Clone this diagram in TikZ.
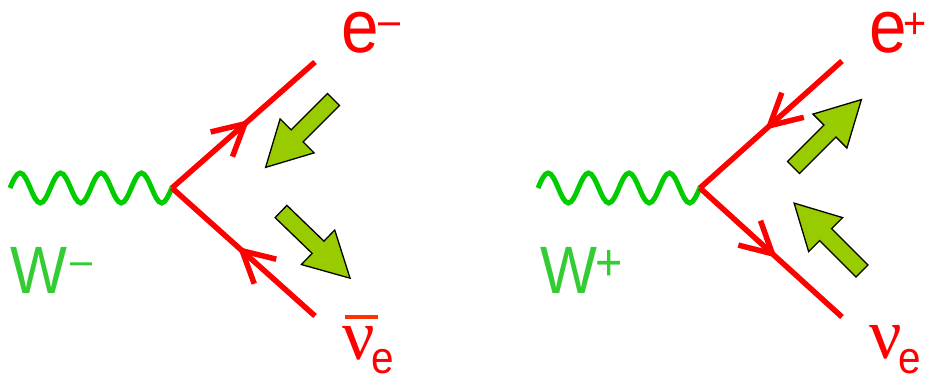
\documentclass[tikz,border=0pt]{standalone}
\usepackage{fontspec}
\usetikzlibrary{arrows.meta, decorations, decorations.markings}
\newfontfamily\lblfont[FakeStretch=0.9]{Liberation Sans}
\newfontfamily\nufont{Liberation Serif}
\definecolor{lepton}{RGB}{255,0,0}
\definecolor{wline}{RGB}{0,204,0}
\definecolor{wtext}{RGB}{51,204,51}
\definecolor{spinfill}{RGB}{153,204,0}
\definecolor{barcol}{RGB}{255,51,0}
% one full sine period per step
\pgfdeclaredecoration{wboson}{wave}{
  \state{wave}[width=\pgfdecorationsegmentlength,
    switch if less than=\pgfdecorationsegmentlength to final]{
    \pgfpathcurveto{\pgfpoint{0.0815\pgfdecorationsegmentlength}{0.5123\pgfdecorationsegmentamplitude}}
      {\pgfpoint{0.1595\pgfdecorationsegmentlength}{\pgfdecorationsegmentamplitude}}
      {\pgfpoint{0.25\pgfdecorationsegmentlength}{\pgfdecorationsegmentamplitude}}
    \pgfpathcurveto{\pgfpoint{0.3405\pgfdecorationsegmentlength}{\pgfdecorationsegmentamplitude}}
      {\pgfpoint{0.4185\pgfdecorationsegmentlength}{0.5123\pgfdecorationsegmentamplitude}}
      {\pgfpoint{0.5\pgfdecorationsegmentlength}{0pt}}
    \pgfpathcurveto{\pgfpoint{0.5815\pgfdecorationsegmentlength}{-0.5123\pgfdecorationsegmentamplitude}}
      {\pgfpoint{0.6595\pgfdecorationsegmentlength}{-\pgfdecorationsegmentamplitude}}
      {\pgfpoint{0.75\pgfdecorationsegmentlength}{-\pgfdecorationsegmentamplitude}}
    \pgfpathcurveto{\pgfpoint{0.8405\pgfdecorationsegmentlength}{-\pgfdecorationsegmentamplitude}}
      {\pgfpoint{0.9185\pgfdecorationsegmentlength}{-0.5123\pgfdecorationsegmentamplitude}}
      {\pgfpoint{\pgfdecorationsegmentlength}{0pt}}
  }
  \state{final}{\pgfpathlineto{\pgfpointdecoratedpathlast}}
}
\begin{document}
\begin{tikzpicture}[x=1pt, y=1pt,
  fermion/.style={lepton, line width=5.5pt, postaction={decorate},
    decoration={markings, mark=at position 0.54 with {\arrow{Straight Barb[length=31pt, width=33pt]}}}},
  boson/.style={wline, line width=5pt, decorate,
    decoration={wboson, segment length=40.45pt, amplitude=15pt}},
  lbl/.style={inner sep=0pt, anchor=base west, font=\lblfont},
  spin/.pic={\filldraw[fill=spinfill, draw=black, line width=1.3pt, line join=miter]
    (0,-8.5) -- (51.5,-8.5) -- (51.5,-24) -- (96,0) -- (51.5,24) -- (51.5,8.5) -- (0,8.5) -- cycle;}]
\useasboundingbox (0,0) rectangle (927,373);
% W-
\begin{scope}[shift={(0,0)}]
  \coordinate (w1) at (10,185);
  \coordinate (v1) at (172,185);
  \coordinate (e1) at (315,311);
  \coordinate (n1) at (315,57);
  \draw[boson] (w1) -- (v1);
  \draw[fermion] (v1) -- (e1);
  \draw[fermion] (n1) -- (v1);
  \pic[rotate=225] at (333.5,273.5) {spin};
  \pic[rotate=-44] at (281,161.5) {spin};
  \node[lbl, lepton] (eminus) at (341,320)
    {\fontsize{75}{75}\selectfont e\raisebox{17.7pt}{\fontsize{44}{44}\selectfont –}};
  \node[lbl, wtext] (wminus) at (10,80)
    {\fontsize{67}{67}\selectfont W\hspace{3pt}\raisebox{17.7pt}{\fontsize{44}{44}\selectfont –}};
  \node[lbl, lepton] (nubar) at (342,14)
    {\nufont\fontsize{72}{72}\selectfont\rlap{\hspace{3pt}\textcolor{barcol}{\rule[40pt]{33pt}{4pt}}}ν\hspace{-3pt}\raisebox{-14pt}{\lblfont\fontsize{45}{45}\selectfont e}};
\end{scope}
% W+
\begin{scope}[shift={(528,0)}]
  \coordinate (w2) at (10,185);
  \coordinate (v2) at (172,185);
  \coordinate (e2) at (314,312);
  \coordinate (n2) at (314,56);
  \draw[boson] (w2) -- (v2);
  \draw[fermion] (e2) -- (v2);
  \draw[fermion] (v2) -- (n2);
  \pic[rotate=45] at (265.5,205.5) {spin};
  \pic[rotate=135] at (334,102) {spin};
  \node[lbl, lepton] (eplus) at (341,320)
    {\fontsize{75}{75}\selectfont e\hspace{-3.5pt}\raisebox{14.6pt}{\fontsize{44}{44}\selectfont +}};
  \node[lbl, wtext] (wplus) at (12,80)
    {\fontsize{67}{67}\selectfont W\hspace{-2pt}\raisebox{13pt}{\fontsize{52}{52}\selectfont +}};
  \node[lbl, lepton] (nu) at (341,15)
    {\nufont\fontsize{72}{72}\selectfont ν\hspace{-3pt}\raisebox{-15pt}{\lblfont\fontsize{45}{45}\selectfont e}};
\end{scope}
\end{tikzpicture}
\end{document}
